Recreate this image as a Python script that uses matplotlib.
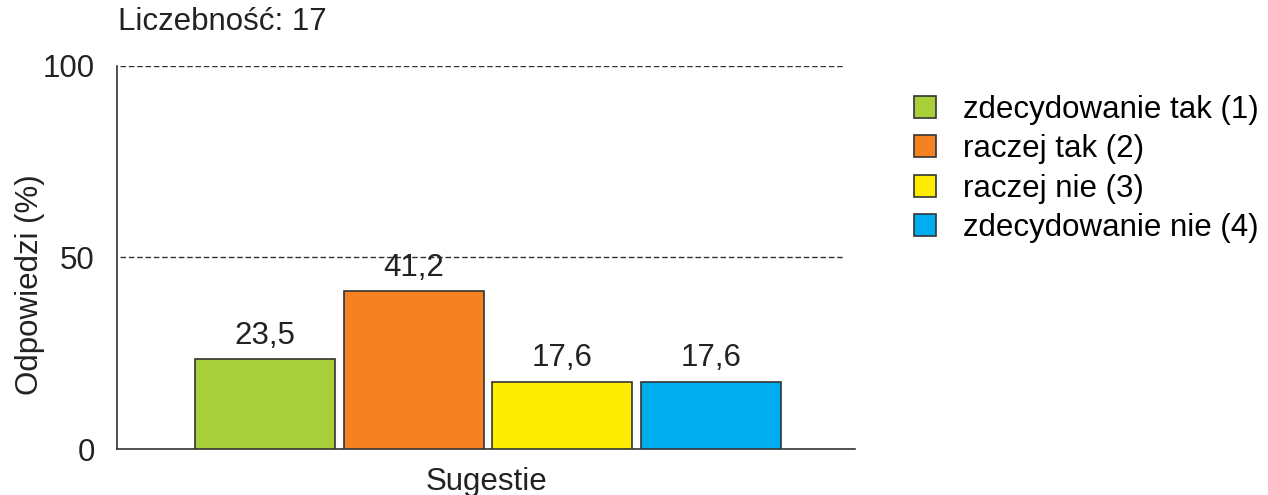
import matplotlib.pyplot as plt

plt.rcParams['font.family'] = ['Liberation Sans', 'DejaVu Sans']

# Response shares (%)
categories = ["zdecydowanie tak (1)", "raczej tak (2)", "raczej nie (3)", "zdecydowanie nie (4)"]
values = [23.5, 41.2, 17.6, 17.6]
value_labels = ["23,5", "41,2", "17,6", "17,6"]
colors = ["#a8cf3a", "#f48221", "#ffed00", "#00aeef"]
count = 17

fs = 22.5
fig = plt.figure(figsize=(12.68, 4.95), dpi=100)
ax = fig.add_axes([0.0923, 0.0929, 0.582, 0.7738])

for i, (cat, val, lab, col) in enumerate(zip(categories, values, value_labels, colors)):
    ax.bar(i, val, width=0.94, color=col, edgecolor="#333333", linewidth=1.2, label=cat, zorder=3)
    ax.annotate(lab, (i, val), xytext=(0, 6), textcoords="offset points",
                ha="center", va="bottom", fontsize=fs, color="#222222")

for y in [50, 100]:
    ax.axhline(y, xmin=0.004, xmax=0.986, color="#333333", linestyle=(0, (4, 2)), linewidth=1.0, zorder=1)

ax.set_xlim(-0.993, 3.966)
ax.set_ylim(0, 100)
ax.set_yticks([0, 50, 100])
ax.set_xticks([])
ax.tick_params(axis="y", length=0, labelsize=fs, pad=16, colors="#222222")

for side in ["top", "right"]:
    ax.spines[side].set_visible(False)
ax.spines["left"].set_color("#333333")
ax.spines["bottom"].set_color("#333333")
ax.spines["left"].set_linewidth(1.2)
ax.spines["bottom"].set_linewidth(1.2)

ax.set_ylabel("Odpowiedzi (%)", fontsize=fs, color="#222222")
ax.yaxis.set_label_coords(-0.097, 0.428)
ax.set_xlabel("Sugestie", fontsize=fs, color="#222222", labelpad=13)

fig.text(0.093, 0.955, f"Liczebność: {count}", fontsize=fs, color="#222222", va="center", ha="left")

fig.legend(loc="upper left", bbox_to_anchor=(0.699, 0.865), frameon=False, fontsize=fs,
           handlelength=0.7, handleheight=0.7, handletextpad=0.85, labelspacing=0.3)

fig.savefig("out.png", dpi=100)
